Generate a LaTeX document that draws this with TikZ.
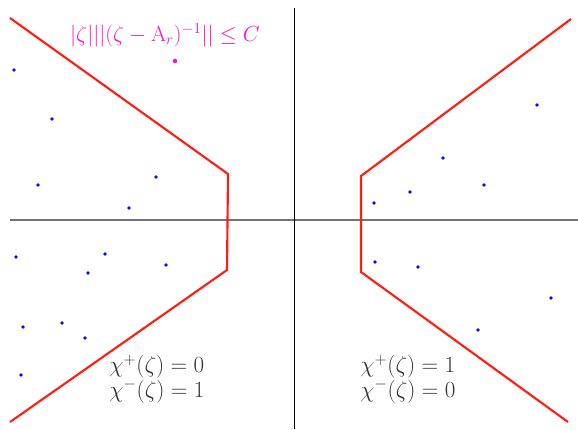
\documentclass[tikz,border=0pt]{standalone}
\usepackage{amsmath, amssymb}
\usepackage{xcolor}
\usetikzlibrary{positioning}
\definecolor{contourred}{RGB}{255,30,20}
\definecolor{eigenblue}{RGB}{10,10,240}
\definecolor{resolvmag}{RGB}{250,20,200}
\definecolor{txtgray}{RGB}{50,50,50}
\tikzset{
  axis/.style={line width=1pt, gray!90!black},
  imaxis/.style={line width=0.5pt, black},
  contour/.style={line width=1.6pt, contourred},
  eig/.style={circle, fill=eigenblue, inner sep=0pt, minimum size=2.8pt},
  lbl/.style={font=\fontsize{16.5}{17}\selectfont, text=txtgray, align=left},
}

\begin{document}
\begin{tikzpicture}[x=0.75pt, y=-0.75pt]
\useasboundingbox (0,0) rectangle (578,429);

% axes
\coordinate (xl) at (10,220);
\coordinate (xr) at (578,220);
\coordinate (yt) at (294,8);
\coordinate (yb) at (294,429);
\draw[axis] (xl) -- (xr);
\draw[imaxis] (yt) -- (yb);

% contours
\coordinate (l1) at (10,18);
\coordinate (l2) at (228,174);
\coordinate (l3) at (227,270);
\coordinate (l4) at (10,422);
\draw[contour] (l1) -- (l2) -- (l3) -- (l4);

\coordinate (r1) at (571,19);
\coordinate (r2) at (361,176);
\coordinate (r3) at (361,272);
\coordinate (r4) at (568,422);
\draw[contour] (r1) -- (r2) -- (r3) -- (r4);

% eigenvalues
\foreach \px/\py in {14/70, 52/119, 38/185, 156/177, 129/208, 16/257, 105/254,
                     88/273, 166/265, 23/327, 62/323, 85/338, 21/375,
                     537/105, 443/158, 410/192, 484/185, 374/203, 375/262,
                     418/267, 551/298, 478/330}
  \node[eig] at (\px,\py) {};

% resolvent bound
\node[eig, fill=resolvmag, minimum size=3.4pt] (zeta) at (175,61) {};
\node[font=\fontsize{16.5}{19}\selectfont, text=resolvmag, scale=0.95] (bound) at (165,35)
  {$|\zeta|||(\zeta-\mathrm{A}_r)^{-1}||\leq C$};

% labels
\node[lbl] (left) at (157,379)
  {$\chi^{+}(\zeta)=0$\\$\chi^{-}(\zeta)=1$};
\node[lbl] (right) at (408,379)
  {$\chi^{+}(\zeta)=1$\\$\chi^{-}(\zeta)=0$};
\end{tikzpicture}
\end{document}
